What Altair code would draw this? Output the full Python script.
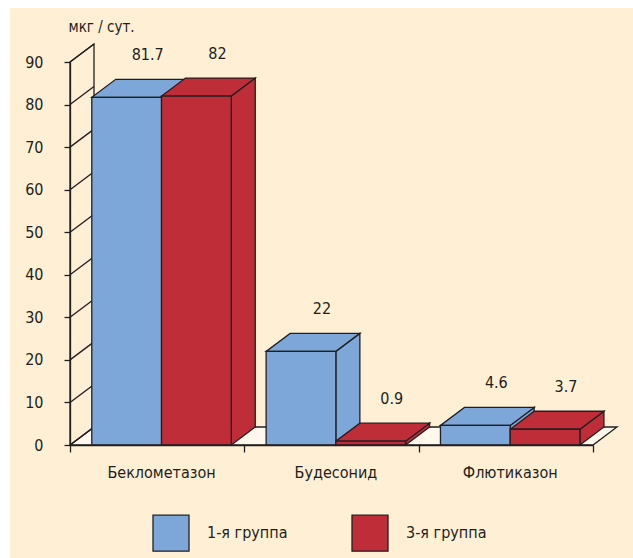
import altair as alt
import pandas as pd

# ---- data -------------------------------------------------------------
categories = ["Беклометазон", "Будесонид", "Флютиказон"]
groups = ["1-я группа", "3-я группа"]
group1_values = [81.7, 22, 4.6]
group3_values = [82, 0.9, 3.7]
group1_labels = ["81.7", "22", "4.6"]
group3_labels = ["82", "0.9", "3.7"]
y_ticks = [0, 10, 20, 30, 40, 50, 60, 70, 80, 90]
y_title = "мкг / сут."

# ---- style ------------------------------------------------------------
BG = "#FFEFD5"
FLOOR = "#FFF8EC"
BLUE = "#7CA7D8"
RED = "#BE2D38"
INK = "#231F20"
FONT = "Liberation Sans Narrow, Arial Narrow, DejaVu Sans Condensed, sans-serif"
FS = 16
SW = 1.3

W, H = 523, 383
YMAX = 90
NCAT = len(categories)
DX = 24 / (W / NCAT)      # 3-D depth, horizontal (x units)
DY = 18 / (H / YMAX)      # 3-D depth, vertical (y units)
OFF = 0.125               # gap before first bar in a category
BW = 0.4                  # bar width (x units)

# ---- derived tables --------------------------------------------------
series = [group1_values, group3_values]
series_labels = [group1_labels, group3_labels]
fronts, sides, tops = [], [], []
for i, cat in enumerate(categories):
    for g, grp in enumerate(groups):
        v = series[g][i]
        x0 = i + OFF + g * BW
        x1 = x0 + BW
        face = f"{i}{g}"
        fronts.append(dict(cat=cat, group=grp, x0=x0, x1=x1, xc=(x0 + x1) / 2,
                           v=v, zero=0, label=series_labels[g][i]))
        sides += [dict(face=face, group=grp, x=x1, y=0, y2=v),
                  dict(face=face, group=grp, x=x1 + DX, y=DY, y2=v + DY)]
        tops += [dict(face=face, group=grp, x=x0, y=v, y2=v),
                 dict(face=face, group=grp, x=x0 + DX, y=v, y2=v + DY),
                 dict(face=face, group=grp, x=x1, y=v, y2=v + DY),
                 dict(face=face, group=grp, x=x1 + DX, y=v + DY, y2=v + DY)]
fronts = pd.DataFrame(fronts)
sides = pd.DataFrame(sides)
tops = pd.DataFrame(tops)

floor = pd.DataFrame([dict(x=0, y=0, y2=0), dict(x=DX, y=0, y2=DY),
                      dict(x=NCAT, y=0, y2=DY), dict(x=NCAT + DX, y=DY, y2=DY)])
wall = pd.DataFrame([dict(x=0, y=0, y2=YMAX), dict(x=DX, y=DY, y2=YMAX + DY)])
grid = pd.DataFrame([dict(x=0, x2=DX, y=t, y2=t + DY) for t in y_ticks])
cat_lab = pd.DataFrame([dict(cat=c, x=i + OFF + BW, y=0) for i, c in enumerate(categories)])

xs = alt.Scale(domain=[0, NCAT], nice=False, zero=False)
ys = alt.Scale(domain=[0, YMAX], nice=False, zero=False)
cs = alt.Scale(domain=groups, range=[BLUE, RED])
legend = alt.Legend(
    orient="none", legendX=82, legendY=452, direction="horizontal", title=None,
    symbolType="square", symbolSize=1296, symbolStrokeColor=INK,
    symbolStrokeWidth=SW, symbolOpacity=1, labelFont=FONT, labelFontSize=FS,
    labelColor=INK, labelOffset=17, columnPadding=61, padding=0, zindex=1)
color = alt.Color("group:N", scale=cs, legend=legend)

bg = alt.Chart(pd.DataFrame({"a": [0]})).mark_rect(fill=BG, stroke=None).encode(
    x=alt.value(-60), x2=alt.value(W + 60), y=alt.value(-54), y2=alt.value(H + 120))

floor_l = alt.Chart(floor).mark_area(fill=FLOOR, stroke=INK, strokeWidth=SW).encode(
    x=alt.X("x:Q", scale=xs), y=alt.Y("y:Q", scale=ys, stack=None), y2="y2:Q")
wall_l = alt.Chart(wall).mark_area(fill=BG, stroke=INK, strokeWidth=SW).encode(
    x=alt.X("x:Q", scale=xs), y=alt.Y("y:Q", scale=ys, stack=None), y2="y2:Q")
grid_l = alt.Chart(grid).mark_rule(color=INK, strokeWidth=SW).encode(
    x=alt.X("x:Q", scale=xs), x2="x2:Q", y=alt.Y("y:Q", scale=ys), y2="y2:Q")

side_l = alt.Chart(sides).mark_area(stroke=INK, strokeWidth=SW, opacity=1).encode(
    x=alt.X("x:Q", scale=xs), y=alt.Y("y:Q", scale=ys, stack=None), y2="y2:Q",
    color=color, detail="face:N")
top_l = alt.Chart(tops).mark_area(stroke=INK, strokeWidth=SW, opacity=1).encode(
    x=alt.X("x:Q", scale=xs), y=alt.Y("y:Q", scale=ys, stack=None), y2="y2:Q",
    color=color, detail="face:N")

front_l = alt.Chart(fronts).mark_bar(stroke=INK, strokeWidth=SW, opacity=1).encode(
    x=alt.X("x0:Q", scale=xs, axis=alt.Axis(values=list(range(NCAT + 1)), labels=False,
                                            tickSize=7, tickColor=INK, domainColor=INK,
                                            domainWidth=SW, tickWidth=SW, grid=False,
                                            title=None, zindex=1)),
    x2="x1:Q",
    y=alt.Y("v:Q", scale=ys, axis=alt.Axis(values=y_ticks, tickSize=6, tickColor=INK,
                                           tickWidth=SW, domainColor=INK, domainWidth=SW,
                                           labelFont=FONT, labelFontSize=FS, labelColor=INK,
                                           labelPadding=21, grid=False, zindex=1,
                                           title=y_title, titleAngle=0, titleAlign="left",
                                           titleBaseline="middle", titleX=-2, titleY=-36,
                                           titleFont=FONT, titleFontSize=15,
                                           titleFontWeight="normal", titleColor=INK)),
    y2="zero:Q",
    color=color)

val_l = alt.Chart(fronts).mark_text(font=FONT, fontSize=FS, color=INK, dx=21, dy=-42,
                                    baseline="middle", align="center").encode(
    x=alt.X("xc:Q", scale=xs), y=alt.Y("v:Q", scale=ys), text="label:N")

cat_l = alt.Chart(cat_lab).mark_text(font=FONT, fontSize=FS, color=INK, dy=33,
                                     baseline="alphabetic", align="center").encode(
    x=alt.X("x:Q", scale=xs), y=alt.Y("y:Q", scale=ys), text="cat:N")

chart = alt.layer(bg, floor_l, wall_l, grid_l, side_l, top_l, front_l, val_l, cat_l).properties(
    width=W, height=H,
    autosize=alt.AutoSizeParams(type="none"),
    padding={"left": 70, "top": 62, "right": 40, "bottom": 113},
    background="white",
).configure_view(stroke=None)

chart.save("out.html", embed_options={"renderer": "svg", "actions": False})
